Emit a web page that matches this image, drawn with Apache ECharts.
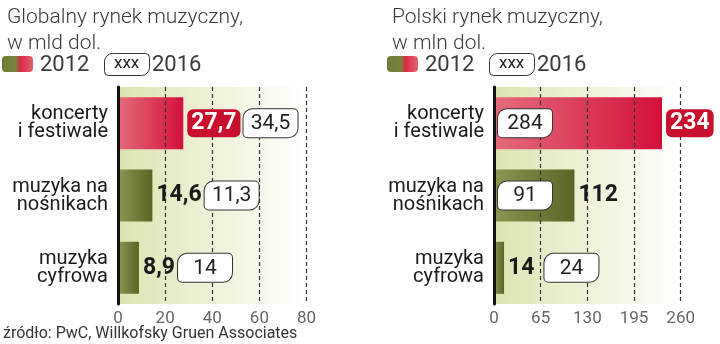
<!DOCTYPE html>
<html><head><meta charset="utf-8">
<script src="https://cdn.jsdelivr.net/npm/echarts@6/dist/echarts.min.js"></script>
<style>html,body{margin:0;padding:0;background:#fff}#c{width:720px;height:344px}</style>
</head><body><div id="c"></div>
<script>
// ---- data ----
const categories = ['koncerty\ni festiwale', 'muzyka na\nnośnikach', 'muzyka\ncyfrowa'];
const globalTitle = 'Globalny rynek muzyczny,\nw mld dol.';
const polandTitle = 'Polski rynek muzyczny,\nw mln dol.';
const global2012 = [27.7, 14.6, 8.9];
const global2016 = [34.5, 11.3, 14];
const poland2012 = [234, 112, 14];
const poland2016 = [284, 91, 24];
const globalTicks = [0, 20, 40, 60, 80];
const polandTicks = [0, 65, 130, 195, 260];
const legendYears = ['2012', '2016'];
const sourceText = 'źródło: PwC, Willkofsky Gruen Associates';

// ---- styles ----
const FONT = 'Roboto, "Noto Sans", sans-serif';
const fmt = v => String(v).replace('.', ',');
const lin = (a, b) => ({type:'linear', x:0, y:0, x2:1, y2:0, colorStops:[{offset:0,color:a},{offset:1,color:b}]});
const redGrad = lin('#e46b7a', '#d3113c');
const oliveGrad = lin('#8c9651', '#5a6527');
const bgGrad = lin('#dfe3b0', '#ffffff');

const rich = {
  r: {backgroundColor:'#c8102e', color:'#fff', fontFamily:FONT, fontWeight:'bold', fontSize:23, padding:[3,4,2,4], borderRadius:6, height:23},
  d: {color:'#1a1a1a', fontFamily:FONT, fontWeight:'bold', fontSize:23, height:23},
  w: {backgroundColor:'#fff', color:'#222', borderColor:'#333', borderWidth:1, borderRadius:[9,4,9,4], fontFamily:FONT, fontSize:21, padding:[3,5,2,5], width:44, align:'center', height:23},
  s: {width:3},
  s2: {width:10}
};

const grids = [
  {left:118, top:87, width:188.5, height:217},
  {left:494, top:87, width:186.7, height:217}
];
const panels = [
  {v12:global2012, v16:global2016, ticks:globalTicks, title:globalTitle, x:0},
  {v12:poland2012, v16:poland2016, ticks:polandTicks, title:polandTitle, x:385}
];

const option = {
  animation:false,
  backgroundColor:'#fff',
  title: [],
  grid: grids.map(g => Object.assign({show:true, backgroundColor:bgGrad, borderWidth:0}, g)),
  xAxis: [], yAxis: [], series: [], graphic: []
};

panels.forEach((p, k) => {
  const max = p.ticks[p.ticks.length-1];
  option.title.push({text:p.title, left:p.x + 2, top:0, textStyle:{fontFamily:FONT, fontSize:21, fontWeight:300, lineHeight:26, color:'#3a3a3a'}});
  option.xAxis.push({type:'value', gridIndex:k, min:p.ticks[0], max:max, interval:p.ticks[1]-p.ticks[0], z:5,
    axisLine:{show:false}, axisTick:{show:false},
    splitLine:{show:true, lineStyle:{color:'#333', width:1.2, type:[4,3]}},
    axisLabel:{color:'#666', fontFamily:FONT, fontSize:17, margin:6}});
  option.yAxis.push({type:'category', gridIndex:k, data:categories, inverse:true, z:6,
    axisLine:{show:true, lineStyle:{color:'#111', width:3}}, axisTick:{show:false},
    axisLabel:{color:'#1a1a1a', fontFamily:FONT, fontSize:20, lineHeight:18, margin:10, align:'right'}});
  // bars
  option.series.push({type:'bar', xAxisIndex:k, yAxisIndex:k, barCategoryGap:'28%', z:2,
    data:p.v12.map((v,i) => ({value:v, itemStyle:{color: i===0 ? redGrad : oliveGrad}}))});
  // labels overlay
  const inside = p.v12.map(v => v/max > 0.4);
  option.series.push({type:'bar', xAxisIndex:k, yAxisIndex:k, barGap:'-100%', barCategoryGap:'28%', z:10, silent:true,
    itemStyle:{color:'rgba(0,0,0,0)'},
    data:p.v12.map((v,i) => ({value:v, label:{show:true, position:'right', distance:4, rich:rich,
      formatter:(i===0 ? '{r|'+fmt(v)+'}' : '{d|'+fmt(v)+'}') + (inside[i] ? '' : (i===0 ? '{s|}' : (k===1 ? '{s2|}' : '{s|}')) + '{w|'+fmt(p.v16[i])+'}')}}))});
  option.series.push({type:'bar', xAxisIndex:k, yAxisIndex:k, barGap:'-100%', barCategoryGap:'28%', z:11, silent:true,
    itemStyle:{color:'rgba(0,0,0,0)'},
    data:p.v12.map((v,i) => ({value:v, label:{show:inside[i], position:'insideLeft', distance:4, rich:rich,
      formatter:'{w|'+fmt(p.v16[i])+'}'}}))});
  // legend
  const lx = p.x;
  option.graphic.push(
    {type:'rect', left:lx+2, top:56, shape:{width:31, height:16, r:4},
      style:{fill:{type:'linear', x:0, y:0, x2:1, y2:0, colorStops:[{offset:0,color:'#6e7c36'},{offset:0.45,color:'#7c8040'},{offset:0.6,color:'#d92a48'},{offset:1,color:'#e4606e'}]}}},
    {type:'text', left:lx+40, top:54, style:{text:legendYears[0], font:'22px '+FONT, fill:'#3a3a3a'}},
    {type:'rect', left:lx+104, top:53, shape:{width:45, height:22, r:[8,4,8,4]}, style:{fill:'#fff', stroke:'#333', lineWidth:1}},
    {type:'text', left:lx+114, top:55, style:{text:'xxx', font:'17px '+FONT, fill:'#222'}},
    {type:'text', left:lx+152, top:54, style:{text:legendYears[1], font:'22px '+FONT, fill:'#3a3a3a'}}
  );
});
option.title.push({text:sourceText, left:3, top:326, padding:0, textStyle:{fontFamily:FONT, fontSize:16, fontWeight:'normal', color:'#333'}});

echarts.init(document.getElementById('c')).setOption(option);
</script></body></html>
